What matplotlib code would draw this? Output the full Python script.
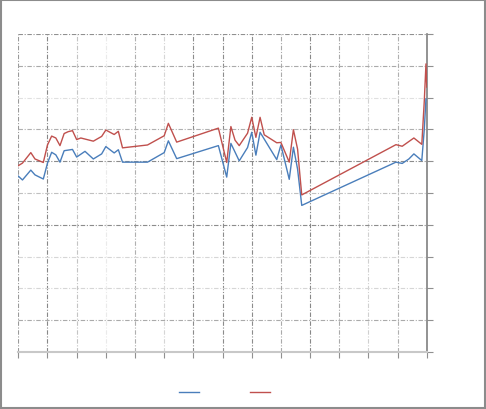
import matplotlib

matplotlib.use("Agg")
import matplotlib.pyplot as plt
from matplotlib.patches import Rectangle

# x in days (grid every 7), y on a 0-100 scale (grid every 10)
red_x = [0, 1, 3, 4, 6, 7, 8, 9, 10, 11, 12, 13, 14, 15, 18, 20, 21, 22, 23, 24,
         25, 31, 35, 36, 38, 48, 50, 51, 52, 53, 55, 56, 57, 58, 59, 62, 63, 65,
         66, 67, 67.6, 68, 90.6, 92.1, 94.9, 96.8, 97.4, 97.8, 98.0]
red_y = [58.6, 59.4, 62.7, 60.7, 59.6, 65.1, 67.9, 67.3, 64.9, 68.7, 69.3, 69.6,
         66.8, 67.3, 66.3, 67.8, 69.8, 69.1, 68.4, 69.4, 64.2, 65.1, 68.0, 71.9,
         66.0, 70.4, 59.6, 70.9, 66.6, 64.9, 68.8, 73.8, 67.5, 73.8, 68.3, 65.8,
         65.9, 59.7, 69.9, 63.8, 55.0, 49.4, 65.2, 64.7, 67.3, 65.3, 79.0, 90.6,
         83.3]

blue_x = [0, 1, 3, 4, 6, 7, 8, 9, 10, 11, 13, 14, 16, 18, 20, 21, 23, 24, 25, 31,
          35, 36, 38, 48, 50, 51, 53, 55, 56, 57, 58, 62, 63, 65, 66, 67, 68,
          90.6, 92.1, 93.7, 94.9, 96.8, 97.4, 97.8]
blue_y = [55.3, 54.1, 57.2, 55.7, 54.4, 59.4, 62.8, 62.0, 59.7, 63.3, 63.7, 61.3,
          63.1, 60.7, 62.3, 64.6, 62.6, 63.6, 59.7, 59.7, 62.7, 66.4, 60.8, 64.9,
          55.0, 65.6, 60.1, 64.3, 69.1, 61.9, 69.1, 60.5, 65.1, 54.3, 64.4, 57.5,
          46.1, 59.7, 59.3, 60.7, 62.3, 60.2, 70.1, 79.6]

x_grid = list(range(0, 99, 7))
y_grid = list(range(0, 101, 10))
x_shade = ["#9a9a9a", "#888888", "#c4c4c4", "#eaeaea", "#b0b0b0", "#d6d6d6", "#8c8c8c",
           "#8c8c8c", "#8c8c8c", "#aaaaaa", "#888888", "#aaaaaa", "#d0d0d0", "#b0b0b0", "#808080"]
y_shade = ["#c8c8c8", "#aaaaaa", "#d6d6d6", "#d6d6d6", "#8c8c8c", "#c0c0c0", "#8c8c8c",
           "#b0b0b0", "#e0e0e0", "#aaaaaa", "#909090"]

fig = plt.figure(figsize=(4.86, 4.10), dpi=100)
fig.patch.set_facecolor("white")
fig.patches.append(Rectangle((0.002, 0.002), 0.996, 0.995, transform=fig.transFigure,
                             fill=False, edgecolor="#8c8c8c", lw=1.5))

ax = fig.add_axes([18.3 / 486, 57 / 410, 408.5 / 486, 318 / 410])
ax.set_xlim(0, 98)
ax.set_ylim(0, 100)

dash = (0, (4, 1.5, 1, 1.5))
for xv, c in zip(x_grid, x_shade):
    ax.axvline(xv, color=c, lw=0.8, ls=dash, zorder=1)
for yv, c in zip(y_grid, y_shade):
    ax.axhline(yv, color=c, lw=0.8, ls=dash, zorder=1)

l1, = ax.plot(blue_x, blue_y, color="#4a7ebb", lw=1.0, zorder=3)
l2, = ax.plot(red_x, red_y, color="#c0504d", lw=1.0, zorder=3)

for s in ["top", "left"]:
    ax.spines[s].set_visible(False)
ax.spines["right"].set_color("#808080")
ax.spines["right"].set_linewidth(1.2)
ax.spines["bottom"].set_color("#c8c8c8")
ax.spines["bottom"].set_linewidth(1.5)

ax.set_xticks(x_grid)
ax.set_yticks(y_grid)
ax.yaxis.tick_right()
ax.tick_params(axis="x", length=4, color="#909090", labelbottom=False)
ax.tick_params(axis="y", length=4, color="#909090", labelright=False, labelleft=False)

fig.legend([l1, l2], ["", ""], loc="center", bbox_to_anchor=(224.5 / 486, 16 / 410),
           ncol=2, frameon=False, handlelength=1.45, handletextpad=0.0,
           columnspacing=3.7, fontsize=10)

fig.savefig("out.png", dpi=100, facecolor="white")
